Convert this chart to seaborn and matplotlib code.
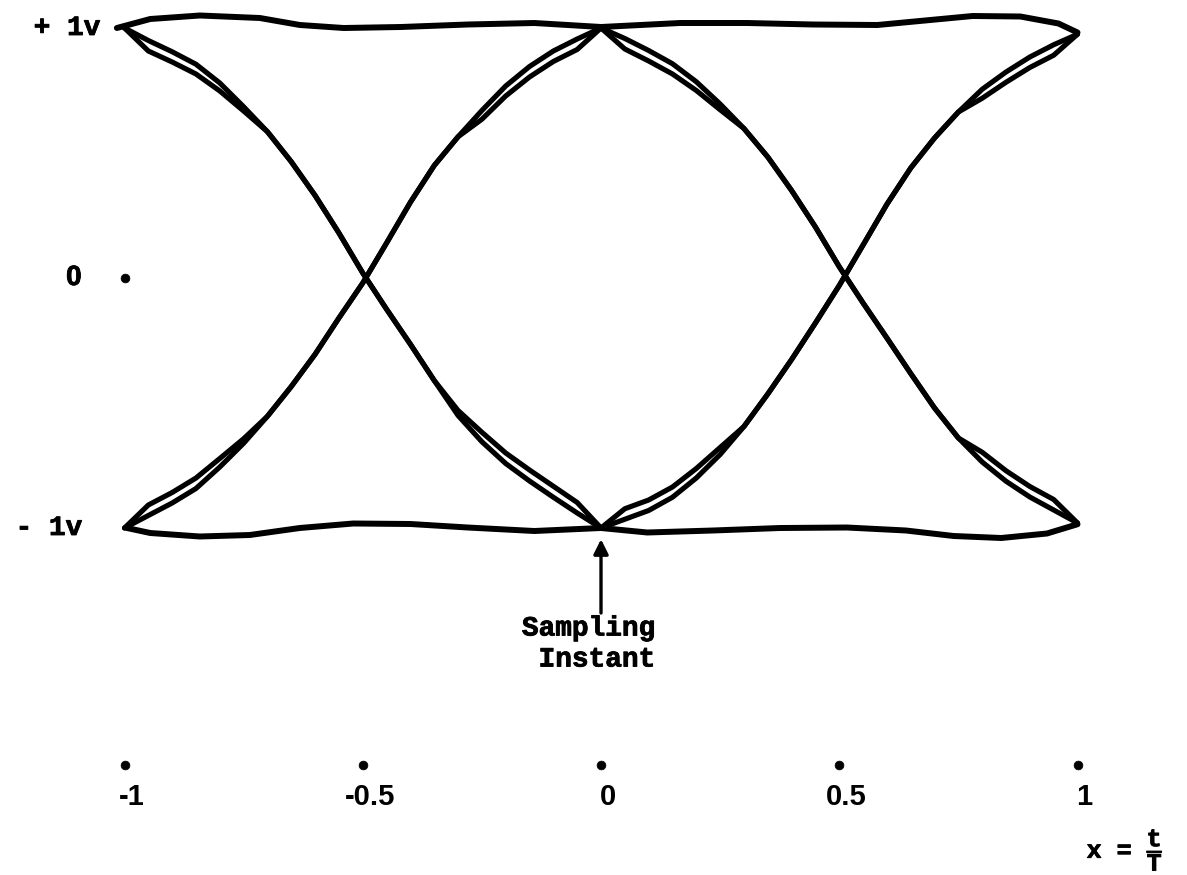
import matplotlib
matplotlib.use("Agg")
import matplotlib.pyplot as plt
import matplotlib.patheffects as pe
import seaborn as sns

sns.set_theme(style="white")
plt.rcParams["font.family"] = ["Liberation Mono", "DejaVu Sans Mono"]
plt.rcParams["font.weight"] = "bold"
plt.rcParams["mathtext.fontset"] = "custom"
plt.rcParams["mathtext.rm"] = "Liberation Mono:bold"
plt.rcParams["mathtext.it"] = "Liberation Mono:bold"
plt.rcParams["mathtext.bf"] = "Liberation Mono:bold"

# ---- eye pattern traces (x = t/T, amplitude in volts) ----
x_left = [-1.0, -0.95, -0.9, -0.85, -0.8, -0.75, -0.7, -0.65, -0.6, -0.55, -0.5,
          -0.45, -0.4, -0.35, -0.3, -0.25, -0.2, -0.15, -0.1, -0.05, 0.0]
x_right = [0.0, 0.05, 0.1, 0.15, 0.2, 0.25, 0.3, 0.35, 0.4, 0.45, 0.5,
           0.55, 0.6, 0.65, 0.7, 0.75, 0.8, 0.85, 0.9, 0.95, 1.0]

# falling transition +1 -> -1 over the left interval (two close sweeps)
fall_left_a = [1.00, 0.95, 0.905, 0.855, 0.78, 0.685, 0.585, 0.465, 0.33, 0.18, 0.02,
               -0.125, -0.265, -0.41, -0.55, -0.655, -0.742, -0.812, -0.877, -0.94, -1.0]
fall_left_b = [1.00, 0.908, 0.864, 0.816, 0.748, 0.668, 0.585, 0.465, 0.33, 0.18, 0.02,
               -0.125, -0.265, -0.41, -0.53, -0.617, -0.7, -0.768, -0.833, -0.898, -1.0]
# rising transition -1 -> +1 over the left interval
rise_left_a = [-1.0, -0.95, -0.90, -0.842, -0.756, -0.661, -0.553, -0.434, -0.305, -0.16, -0.02,
               0.14, 0.303, 0.45, 0.565, 0.67, 0.768, 0.846, 0.908, 0.956, 1.0]
rise_left_b = [-1.0, -0.908, -0.858, -0.8, -0.722, -0.643, -0.553, -0.434, -0.305, -0.16, -0.02,
               0.14, 0.303, 0.45, 0.565, 0.635, 0.728, 0.804, 0.866, 0.914, 1.0]
# falling transition over the right interval
fall_right_a = [1.0, 0.958, 0.91, 0.857, 0.785, 0.696, 0.598, 0.484, 0.35, 0.204, 0.045,
                -0.1, -0.24, -0.382, -0.52, -0.64, -0.736, -0.813, -0.876, -0.928, -0.98]
fall_right_b = [1.0, 0.916, 0.868, 0.816, 0.75, 0.673, 0.598, 0.484, 0.35, 0.204, 0.045,
                -0.1, -0.24, -0.382, -0.52, -0.64, -0.697, -0.771, -0.834, -0.886, -0.98]
# rising transition over the right interval
rise_right_a = [-1.0, -0.965, -0.93, -0.877, -0.80, -0.706, -0.594, -0.464, -0.326, -0.18, -0.03,
                0.132, 0.295, 0.44, 0.56, 0.664, 0.755, 0.824, 0.884, 0.933, 0.975]
rise_right_b = [-1.0, -0.923, -0.888, -0.836, -0.762, -0.678, -0.594, -0.464, -0.326, -0.18, -0.03,
                0.132, 0.295, 0.44, 0.56, 0.664, 0.719, 0.783, 0.842, 0.891, 0.975]

# steady "+1" and "-1" levels (slightly wavy)
top_x = [-1.016, -0.946, -0.842, -0.716, -0.632, -0.54, -0.42, -0.28, -0.14, 0.0,
         0.166, 0.306, 0.445, 0.58, 0.68, 0.78, 0.88, 0.96, 1.0]
top_y = [1.0, 1.036, 1.05, 1.04, 1.012, 1.0, 1.004, 1.014, 1.02, 1.004,
         1.02, 1.02, 1.014, 1.012, 1.03, 1.048, 1.046, 1.018, 0.982]
bot_x = [-0.995, -0.946, -0.842, -0.737, -0.632, -0.52, -0.4, -0.28, -0.14, 0.0,
         0.097, 0.235, 0.376, 0.516, 0.64, 0.74, 0.84, 0.936, 1.0]
bot_y = [-1.0, -1.02, -1.034, -1.028, -1.0, -0.982, -0.984, -0.998, -1.012, -1.0,
         -1.018, -1.01, -1.0, -0.998, -1.01, -1.032, -1.04, -1.022, -0.985]

# axis annotations
x_ticks = [-1, -0.5, 0, 0.5, 1]
x_tick_labels = ["-1", "-0.5", "0", "0.5", "1"]
level_values = [1, 0, -1]
level_labels = ["+ 1v", "0", "- 1v"]

fig = plt.figure(figsize=(11.87, 8.75), dpi=100)
ax = fig.add_axes([0, 0, 1, 1])
ax.set_xlim(-1.2613, 1.2298)
ax.set_ylim(-2.388, 1.112)
ax.set_axis_off()

ink = "black"
for xs, ys in [(x_left, fall_left_a), (x_left, fall_left_b),
               (x_left, rise_left_a), (x_left, rise_left_b),
               (x_right, fall_right_a), (x_right, fall_right_b),
               (x_right, rise_right_a), (x_right, rise_right_b)]:
    sns.lineplot(x=xs, y=ys, sort=False, estimator=None, color=ink, lw=3.7,
                 solid_capstyle="round", solid_joinstyle="round", ax=ax)

for xs, ys in [(top_x, top_y), (bot_x, bot_y)]:
    sns.lineplot(x=xs, y=ys, sort=False, estimator=None, color=ink, lw=4.3,
                 solid_capstyle="round", solid_joinstyle="round", ax=ax)

# tick dots along the time axis and the zero-level dot
tick_row = -1.948
sns.scatterplot(x=x_ticks, y=[tick_row] * len(x_ticks), color=ink, s=40,
                edgecolor=ink, ax=ax, zorder=5)
sns.scatterplot(x=[-1.0], y=[0.0], color=ink, s=40, edgecolor=ink, ax=ax, zorder=5)

heavy = [pe.withStroke(linewidth=0.6, foreground=ink)]
digits = ["Liberation Sans", "DejaVu Sans"]

for xv, lab in zip(x_ticks, x_tick_labels):
    ax.text(xv + 0.015, -2.076, lab, ha="center", va="center", fontsize=21,
            fontweight="bold", family=digits, color=ink)

label_right = {"+ 1v": -1.051, "0": -1.09, "- 1v": -1.089}
for yv, lab in zip(level_values, level_labels):
    fam = digits if lab == "0" else ["Liberation Mono", "DejaVu Sans Mono"]
    ax.text(label_right[lab], yv, lab, ha="right", va="center", fontsize=20,
            fontweight="bold", family=fam, color=ink, path_effects=heavy)

# sampling instant marker
ax.annotate("", xy=(0.0, -1.045), xytext=(0.0, -1.34),
            arrowprops=dict(arrowstyle="-|>", color=ink, lw=2.4,
                            mutation_scale=22, shrinkA=0, shrinkB=0))
ax.text(-0.166, -1.464, "Sampling\n Instant", ha="left", va="center",
        fontsize=20, fontweight="bold", color=ink, linespacing=1.25,
        path_effects=heavy)

ax.text(1.10, -2.285, r"x = $\dfrac{t}{T}$", ha="center", va="center",
        fontsize=18, fontweight="bold", color=ink, path_effects=heavy)

fig.savefig("out.png", dpi=100, facecolor="white")
